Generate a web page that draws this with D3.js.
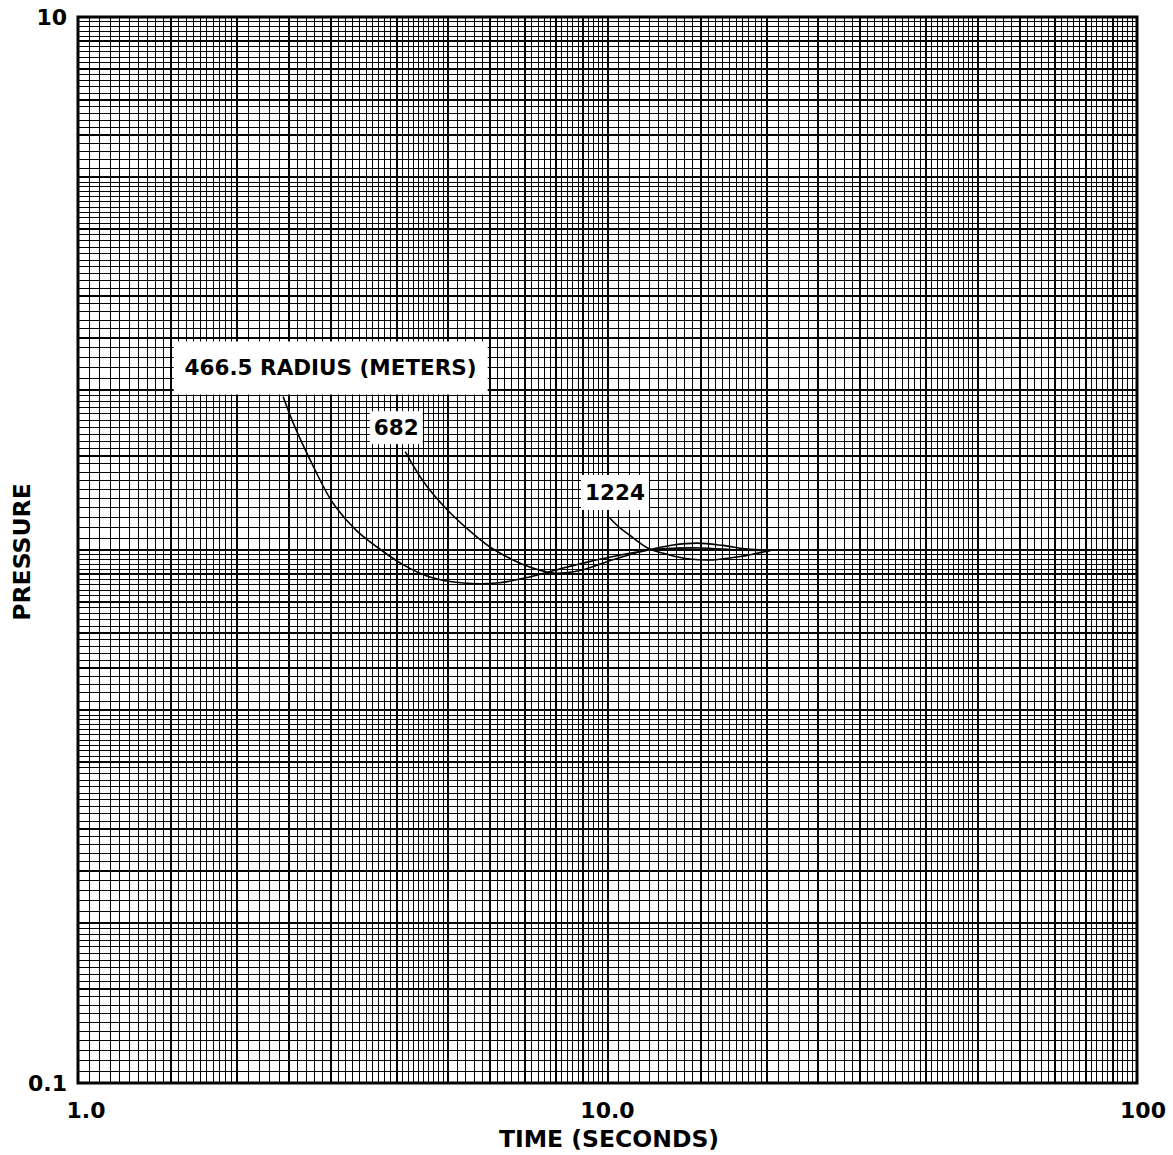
<!DOCTYPE html>
<html>
<head>
<meta charset="utf-8">
<script src="https://cdn.jsdelivr.net/npm/d3@7"></script>
<style>
  html, body { margin: 0; padding: 0; background: #fff; }
  svg { display: block; }
  text { font-family: "DejaVu Sans", "Liberation Sans", sans-serif; fill: #000; font-weight: bold; }
</style>
</head>
<body>
<svg id="chart" width="1173" height="1155"></svg>
<script>
// ---- data ----
const xDomain = [1, 100];
const yDomain = [0.1, 10];

const xTickLabels = [{ v: 1, t: "1.0" }, { v: 10, t: "10.0" }, { v: 100, t: "100" }];
const yTickLabels = [{ v: 0.1, t: "0.1" }, { v: 10, t: "10" }];

// curve r = 466.5 m
const r466Time = [2.44, 2.55, 2.75, 3.03, 3.35, 3.67, 4.1, 4.62, 5.34, 6.18, 7.13, 8.25, 9.2, 10.25, 11.9, 13.3, 14.8, 16.5, 18.4, 20.3];
const r466Pres = [1.94, 1.73, 1.47, 1.225, 1.09, 1.013, 0.94, 0.89, 0.867, 0.867, 0.89, 0.925, 0.95, 0.972, 1.0, 1.022, 1.03, 1.02, 1.004, 0.998];
// curve r = 682 m
const r682Time = [4.15, 4.5, 4.98, 5.5, 6.0, 6.6, 7.13, 7.9, 8.87, 10.1, 11.0, 12.0, 13.5, 15.0, 17.8, 20.3];
const r682Pres = [1.53, 1.34, 1.19, 1.085, 1.013, 0.96, 0.929, 0.905, 0.915, 0.955, 0.98, 1.0, 1.008, 1.009, 1.0, 0.998];
// curve r = 1224 m
const r1224Time = [10.1, 10.5, 11.0, 11.9, 13.1, 14.3, 15.8, 17.8, 20.3];
const r1224Pres = [1.148, 1.105, 1.067, 1.009, 0.979, 0.962, 0.958, 0.972, 0.998];

const seriesNames = ["466.5 RADIUS (METERS)", "682", "1224"];
const labelTime = [3.0, 3.99, 10.33];
const labelPres = [2.2, 1.70, 1.285];

// grid subdivisions within one decade (mantissa values)
const fineSteps = [[1, 2, 0.05], [2, 5, 0.1], [5, 10, 0.2]];
const mediumMarks = [1.5, 2.5];
const heavyMarks = [1, 2, 3, 4, 5, 6, 7, 8, 9];

// ---- layout ----
const svg = d3.select("#chart");
const L = 78, T = 17, R = 1137, B = 1083;
const x = d3.scaleLog().domain(xDomain).range([L, R]);
const y = d3.scaleLog().domain(yDomain).range([B, T]);

function decadeValues(domain) {
  const fine = [], med = [], heavy = [];
  const d0 = Math.round(Math.log10(domain[0])), d1 = Math.round(Math.log10(domain[1]));
  for (let d = d0; d < d1; d++) {
    const base = Math.pow(10, d);
    fineSteps.forEach(([a, b, s]) => {
      const n = Math.round((b - a) / s);
      for (let i = 1; i < n; i++) fine.push(+(a + i * s).toFixed(4) * base);
    });
    mediumMarks.forEach(m => med.push(m * base));
    heavyMarks.forEach(m => heavy.push(m * base));
  }
  heavy.push(domain[1]);
  return { fine, med, heavy };
}

const gx = decadeValues(xDomain), gy = decadeValues(yDomain);
const grid = svg.append("g").attr("shape-rendering", "crispEdges").attr("stroke", "#000");

function drawGrid(vals, w) {
  grid.append("g").selectAll("line").data(vals).join("line")
    .attr("x1", d => x(d)).attr("x2", d => x(d)).attr("y1", T).attr("y2", B)
    .attr("stroke-width", w);
}
function drawGridY(vals, w) {
  grid.append("g").selectAll("line").data(vals).join("line")
    .attr("y1", d => y(d)).attr("y2", d => y(d)).attr("x1", L).attr("x2", R)
    .attr("stroke-width", w);
}
drawGrid(gx.fine, 1); drawGridY(gy.fine, 1);
drawGrid(gx.med, 1.6); drawGridY(gy.med, 1.6);
drawGrid(gx.heavy, 2); drawGridY(gy.heavy, 2);

svg.append("rect").attr("x", L).attr("y", T).attr("width", R - L).attr("height", B - T)
  .attr("fill", "none").attr("stroke", "#000").attr("stroke-width", 3);

// ---- curves ----
const line = d3.line().x(d => x(d[0])).y(d => y(d[1])).curve(d3.curveCatmullRom.alpha(0.5));
const series = [
  d3.zip(r466Time, r466Pres),
  d3.zip(r682Time, r682Pres),
  d3.zip(r1224Time, r1224Pres)
];
svg.append("g").selectAll("path").data(series).join("path")
  .attr("d", line).attr("fill", "none").attr("stroke", "#000").attr("stroke-width", 1.6);

// ---- labels ----
const labelPad = [[11, 14], [4, 4], [4, 5]];
seriesNames.forEach((name, i) => {
  const g = svg.append("g");
  const t = g.append("text").attr("x", x(labelTime[i])).attr("y", y(labelPres[i]) + 8)
    .attr("text-anchor", "middle")
    .attr("font-size", 21.5).text(name);
  const bb = t.node().getBBox();
  const [px, py] = labelPad[i];
  g.insert("rect", "text").attr("x", bb.x - px).attr("y", bb.y - py)
    .attr("width", bb.width + 2 * px).attr("height", bb.height + 2 * py).attr("fill", "#fff");
});

// ---- axis labels ----
svg.append("g").selectAll("text").data(yTickLabels).join("text")
  .attr("x", 67).attr("y", d => y(d.v) + 8).attr("text-anchor", "end")
  .attr("font-size", 22).text(d => d.t);
svg.append("g").selectAll("text").data(xTickLabels).join("text")
  .attr("x", d => x(d.v) + (d.v === 1 ? 8 : d.v === 100 ? 6 : 0)).attr("y", 1118)
  .attr("text-anchor", "middle")
  .attr("font-size", 22).text(d => d.t);

svg.append("text").attr("x", 609).attr("y", 1147).attr("text-anchor", "middle")
  .attr("font-size", 23.5).text("TIME (SECONDS)");
svg.append("text").attr("transform", "translate(30,552) rotate(-90)").attr("text-anchor", "middle")
  .attr("font-size", 23.5).text("PRESSURE");
</script>
</body>
</html>
